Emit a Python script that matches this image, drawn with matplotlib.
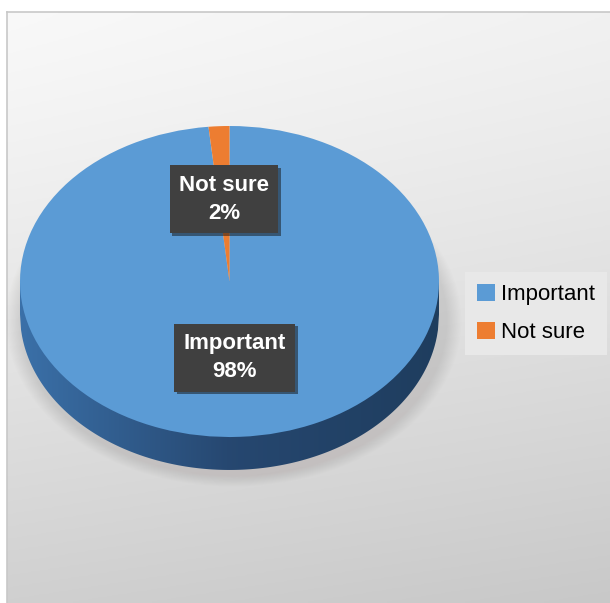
import numpy as np
import matplotlib
matplotlib.use('Agg')
import matplotlib.pyplot as plt
import matplotlib.patches as mpatches
import matplotlib.patheffects as pe

categories = ['Important', 'Not sure']
shares = [98.4, 1.6]
colors = ['#5B9BD5', '#ED7D31']
label_dist = [0.49, 0.53]

plt.rcParams['font.family'] = ['Liberation Sans Narrow', 'Liberation Sans', 'DejaVu Sans']

fig = plt.figure(figsize=(6.10, 6.03), dpi=100, facecolor='white')

# background panel with soft gray gradient
bg = fig.add_axes([7 / 610, 0, 603 / 610, 591 / 603])
yy, xx = np.mgrid[0:1:200j, 0:1:200j]
shade = 0.975 - 0.16 * yy ** 1.2 - 0.03 * xx
bg.imshow(np.dstack([shade, shade, shade]), extent=[0, 1, 0, 1], origin='upper', aspect='auto')
bg.set_xticks([])
bg.set_yticks([])
for s in ['right', 'bottom']:
    bg.spines[s].set_visible(False)
for s in ['left', 'top']:
    bg.spines[s].set_color('#c8c8c8')
    bg.spines[s].set_linewidth(1.2)

ax = fig.add_axes([0, 0, 1, 1])
ax.set_facecolor('none')
ax.axis('off')

depth = 0.212

# soft shadow under the pie
for k in range(12):
    sh = mpatches.Ellipse((0.02, -depth - 0.04), 2.04 + 0.012 * k, 2.0 + 0.012 * k,
                          facecolor=(0.58, 0.55, 0.5), edgecolor='none', alpha=0.02)
    ax.add_patch(sh)

# side of the disk
xs = np.linspace(-1, 1, 400)
lower = -depth - np.sqrt(1 - xs ** 2)
verts = np.column_stack([np.r_[xs, xs[::-1]], np.r_[lower, np.zeros_like(xs)]])
side = mpatches.Polygon(verts, closed=True, facecolor='none', edgecolor='none')
ax.add_patch(side)
gx = np.linspace(0, 1, 300)
side_r = np.interp(gx, [0, 0.5, 1], [0.23, 0.15, 0.12])
side_g = np.interp(gx, [0, 0.5, 1], [0.44, 0.28, 0.24])
side_b = np.interp(gx, [0, 0.5, 1], [0.66, 0.44, 0.37])
grad = np.dstack([side_r, side_g, side_b])
im = ax.imshow(grad, extent=[-1, 1, -1 - depth, 0], aspect='auto', zorder=2)
im.set_clip_path(side)

wedges, _ = ax.pie(shares, colors=colors, startangle=90, counterclock=False,
                   radius=1, wedgeprops=dict(linewidth=0))
for w in wedges:
    w.set_zorder(3)

for w, cat, val, d in zip(wedges, categories, shares, label_dist):
    mid = np.deg2rad((w.theta1 + w.theta2) / 2)
    t = ax.text(d * np.cos(mid), d * np.sin(mid), f'{cat}\n{val:.0f}%',
                ha='center', va='center', color='white', fontsize=16,
                fontweight='bold', linespacing=1.45, zorder=5,
                bbox=dict(boxstyle='square,pad=0.42', facecolor='#404040', edgecolor='none'))
    t.get_bbox_patch().set_path_effects([pe.SimplePatchShadow(offset=(2, -2), alpha=0.5), pe.Normal()])

ax.set_aspect('auto')
ax.set_xlim(-229.5 / 209.5, (610 - 229.5) / 209.5)
ax.set_ylim(-321.5 / 155.5, (603 - 321.5) / 155.5)

handles = [mpatches.Patch(facecolor=c, edgecolor='none', label=cat) for c, cat in zip(colors, categories)]
leg = fig.legend(handles=handles, loc='center', bbox_to_anchor=(468 / 610, 243 / 603, 136 / 610, 93 / 603),
                 fontsize=16, frameon=True, fancybox=False, framealpha=1,
                 handlelength=0.8, handleheight=0.8, handletextpad=0.3,
                 labelspacing=0.75, borderpad=0.55, borderaxespad=0)
leg.get_frame().set_facecolor('#e8e8e8')
leg.get_frame().set_edgecolor('none')

fig.savefig('out.png', dpi=100, facecolor='white')
